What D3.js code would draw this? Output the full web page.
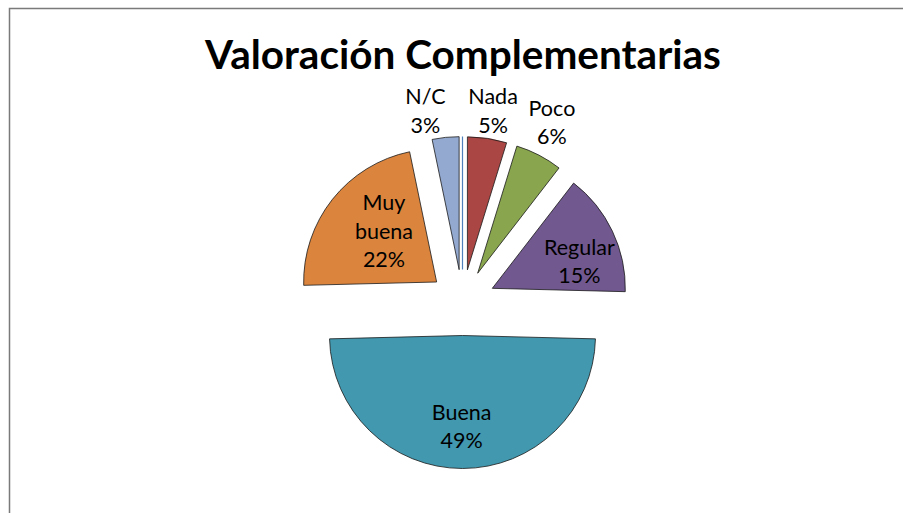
<!DOCTYPE html>
<html>
<head>
<meta charset="utf-8">
<style>
  body { margin: 0; background: #fff; }
  svg text { font-family: Lato, "Open Sans", sans-serif; fill: #000; }
</style>
</head>
<body>
<svg width="903" height="513"></svg>
<script src="https://d3js.org/d3.v7.min.js"></script>
<script>

// data (first category has no visible share, drawn as a thin line)
var categories = ["", "Nada", "Poco", "Regular", "Buena", "Muy buena", "N/C"];
var shares = [0, 4.75, 5.7, 14.9, 49.1, 22.1, 3.25];
var shareLabels = ["", "5%", "6%", "15%", "49%", "22%", "3%"];
var colors = ["#4F81BD", "#AA4643", "#89A54E", "#71588F", "#4198AF", "#DB843D", "#93A9CF"];
var title = "Valoración Complementarias";

var width = 903;
var height = 513;
var cx = 462.5;
var cy = 302.5;
var radius = 133;
var explode = 33;

// label placement: distance from the pie centre and angle shift (deg) from the slice middle
var labelPos = {
	"Nada": { r: 194, shift: 0.5 },
	"Poco": { r: 201, shift: -1 },
	"Regular": { r: 124, shift: 6 },
	"Buena": { r: 124, shift: 0.4 },
	"Muy buena": { r: 106, shift: 3.8 },
	"N/C": { r: 195, shift: -5.1 }
};
var lineHeight = 28.5;

var svg = d3.select("svg")
	.attr("width", width)
	.attr("height", height);

// chart frame (only top and left edges are inside the window)
svg.append("rect")
	.attr("x", 9.5)
	.attr("y", 8.5)
	.attr("width", 1200)
	.attr("height", 1200)
	.attr("fill", "none")
	.attr("stroke", "#7a7a7a")
	.attr("stroke-width", 1.5);

svg.append("text")
	.attr("x", 463)
	.attr("y", 69)
	.attr("text-anchor", "middle")
	.style("font-size", "40.5px")
	.style("font-weight", "bold")
	.text(title);

var data = categories.map(function(c, i) {
	return { name: c, value: shares[i], label: shareLabels[i], color: colors[i] };
});

var pie = d3.pie()
	.sort(null)
	.value(function(d) { return d.value; });

var arc = d3.arc()
	.innerRadius(0)
	.outerRadius(radius);

var arcs = pie(data);

var g = svg.append("g")
	.attr("transform", "translate(" + cx + "," + cy + ")");

g.selectAll("path")
	.data(arcs)
	.join("path")
	.attr("d", arc)
	.attr("fill", function(d) { return d.data.color; })
	.attr("stroke", function(d) { return d.data.value === 0 ? d.data.color : "#1a1a1a"; })
	.attr("stroke-width", function(d) { return d.data.value === 0 ? 1.2 : 0.8; })
	.attr("transform", function(d) {
		var a = (d.startAngle + d.endAngle) / 2;
		return "translate(" + (explode * Math.sin(a)) + "," + (-explode * Math.cos(a)) + ")";
	});

var labels = g.selectAll("g.label")
	.data(arcs.filter(function(d) { return d.data.value > 0; }))
	.join("g")
	.attr("class", "label")
	.attr("transform", function(d) {
		var p = labelPos[d.data.name];
		var a = (d.startAngle + d.endAngle) / 2 + p.shift * Math.PI / 180;
		return "translate(" + (p.r * Math.sin(a)) + "," + (-p.r * Math.cos(a)) + ")";
	});

labels.each(function(d) {
	var lines = d.data.name === "Muy buena" ? ["Muy", "buena"] : [d.data.name];
	lines.push(d.data.label);
	var top = -(lines.length - 1) * lineHeight / 2;
	d3.select(this).selectAll("text")
		.data(lines)
		.join("text")
		.attr("text-anchor", "middle")
		.attr("dy", "0.35em")
		.attr("y", function(t, i) { return top + i * lineHeight; })
		.style("font-size", "21.5px")
		.text(function(t) { return t; });
});

</script>
</body>
</html>
